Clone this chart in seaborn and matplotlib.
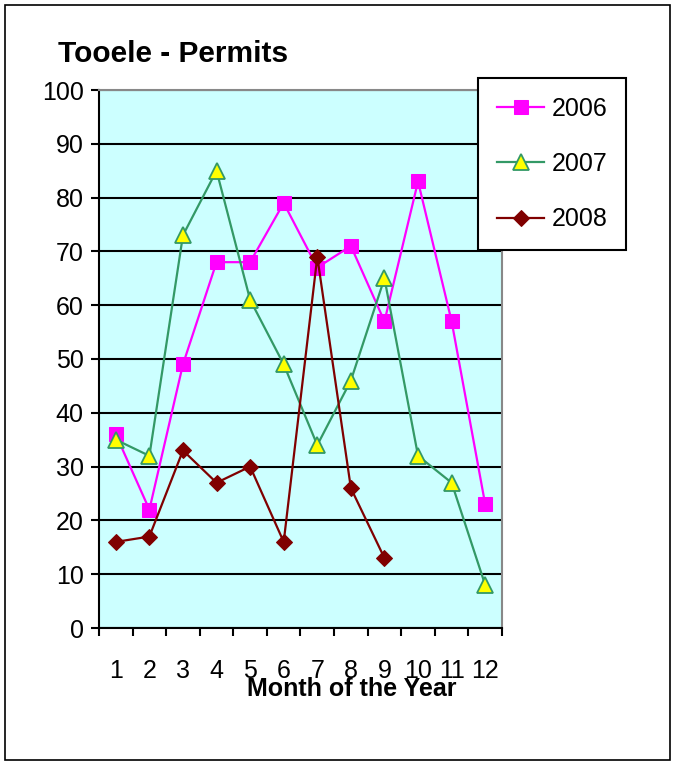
import matplotlib
matplotlib.use("Agg")
import matplotlib.pyplot as plt
import seaborn as sns
import pandas as pd
from matplotlib.patches import Rectangle
from matplotlib.ticker import FixedLocator

months = list(range(1, 13))
month_labels = [str(m) for m in months]
p2006 = [36, 22, 49, 68, 68, 79, 67, 71, 57, 83, 57, 23]
p2007 = [35, 32, 73, 85, 61, 49, 34, 46, 65, 32, 27, 8]
p2008 = [16, 17, 33, 27, 30, 16, 69, 26, 13]
y_ticks = list(range(0, 101, 10))

plt.rcParams['font.family'] = ['Liberation Sans', 'DejaVu Sans']

fig = plt.figure(figsize=(6.77, 7.64), dpi=100)
ax = fig.add_axes([99/677, 1-628/764, (502-99)/677, (628-90)/764])
ax.set_facecolor('#CCFFFF')

df06 = pd.DataFrame({'month': months, 'permits': p2006})
df07 = pd.DataFrame({'month': months, 'permits': p2007})
df08 = pd.DataFrame({'month': months[:len(p2008)], 'permits': p2008})

sns.lineplot(data=df06, x='month', y='permits', ax=ax, color='#FF00FF', lw=1.6,
             marker='s', markersize=10, markerfacecolor='#FF00FF', markeredgecolor='#FF00FF',
             label='2006', zorder=3)
sns.lineplot(data=df07, x='month', y='permits', ax=ax, color='#339966', lw=1.6,
             marker='^', markersize=11, markerfacecolor='#FFFF00', markeredgecolor='#339966',
             markeredgewidth=1.3, label='2007', zorder=3)
sns.lineplot(data=df08, x='month', y='permits', ax=ax, color='#800000', lw=1.6,
             marker='D', markersize=8, markerfacecolor='#800000', markeredgecolor='#800000',
             label='2008', zorder=3)

ax.set_xlim(0.5, 12.5)
ax.set_ylim(0, 100)
ax.set_yticks(y_ticks)
ax.set_yticklabels([str(v) for v in y_ticks], fontsize=18)
ax.tick_params(axis='y', direction='out', length=6, width=1.5, pad=5)
ax.xaxis.set_major_locator(FixedLocator([m - 0.5 for m in months] + [12.5]))
ax.set_xticklabels([''] * 13)
ax.xaxis.set_minor_locator(FixedLocator(months))
ax.set_xticklabels(month_labels, minor=True, fontsize=18)
ax.tick_params(axis='x', which='major', direction='out', length=6, width=1.5)
ax.tick_params(axis='x', which='minor', length=0, pad=22)

ax.grid(axis='y', color='black', lw=1.5, zorder=1)
ax.set_axisbelow(True)
for s in ['left', 'bottom']:
    ax.spines[s].set_color('black')
    ax.spines[s].set_linewidth(1.5)
for s in ['top', 'right']:
    ax.spines[s].set_color('#888888')
    ax.spines[s].set_linewidth(1.5)
ax.set_xlabel('')
ax.set_ylabel('')

fig.text(58/677, 1-54/764, 'Tooele - Permits', fontsize=21.5, fontweight='bold',
         ha='left', va='center')
fig.text(352/677, 1-689/764, 'Month of the Year', fontsize=18, fontweight='bold',
         ha='center', va='center')

leg = ax.legend(loc='upper left', bbox_to_anchor=(478/677, 1-78/764),
                bbox_transform=fig.transFigure, fontsize=18, frameon=True,
                fancybox=False, edgecolor='black', framealpha=1, borderaxespad=0,
                handlelength=1.9, labelspacing=1.25, borderpad=0.75, handletextpad=0.3)
leg.get_frame().set_linewidth(1.5)
leg.set_zorder(10)

fig.patches.append(Rectangle((5/677, 1-760/764), 665/677, 755/764, transform=fig.transFigure,
                             fill=False, edgecolor='black', lw=1.2))

fig.savefig('out.png', dpi=100)
